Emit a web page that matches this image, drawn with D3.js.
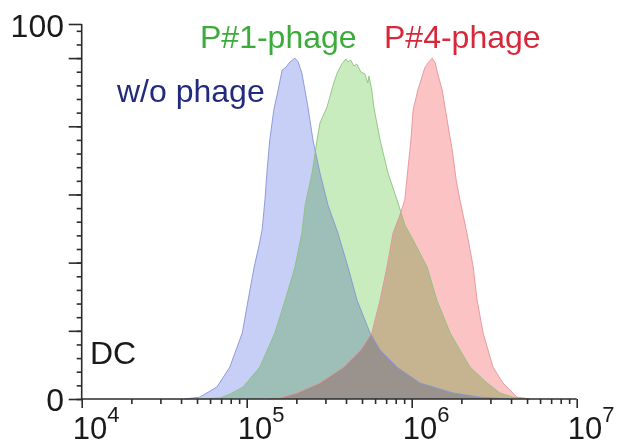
<!DOCTYPE html>
<html>
<head>
<meta charset="utf-8">
<script src="https://cdn.jsdelivr.net/npm/d3@7"></script>
<style>
  body { margin: 0; background: #fff; }
  svg { font-family: "Liberation Sans", Arial, sans-serif; }
</style>
</head>
<body>
<div id="chart"></div>
<script>
// intensity (x) and % of max (y)
const blueX = [4.2e4, 5.2e4, 6.6e4, 7.9e4, 9.4e4, 1.02e5, 1.11e5, 1.19e5, 1.24e5, 1.29e5, 1.33e5, 1.38e5, 1.46e5, 1.55e5, 1.64e5, 1.73e5, 1.83e5, 1.96e5, 2.05e5, 2.16e5, 2.35e5, 2.52e5, 2.78e5, 3.11e5, 3.57e5, 4.11e5, 4.66e5, 5.59e5, 6.43e5, 8.15e5, 1.12e6, 1.78e6, 2.59e6, 3.94e6];
const blueY = [0, 0.5, 3.2, 8.5, 17.6, 26.4, 35.2, 41.1, 45.1, 53.1, 61.1, 69.1, 77.1, 82.4, 87.7, 88.5, 89.9, 90.9, 89.9, 86.9, 77.9, 69.1, 60.3, 51.7, 44.3, 35.2, 26.4, 17.6, 13.1, 8.5, 4.3, 1.6, 0.5, 0];

const greenX = [5.2e4, 6.9e4, 7.9e4, 9.5e4, 1.2e5, 1.48e5, 1.71e5, 1.96e5, 2.16e5, 2.26e5, 2.49e5, 2.67e5, 2.78e5, 3.07e5, 3.34e5, 3.53e5, 3.77e5, 3.99e5, 4.11e5, 4.27e5, 4.46e5, 4.65e5, 4.92e5, 5.2e5, 5.42e5, 5.5e5, 5.73e5, 5.89e5, 6.43e5, 7.18e5, 8.15e5, 9.1e5, 1.02e6, 1.24e6, 1.42e6, 1.71e6, 1.96e6, 2.26e6, 2.86e6, 3.43e6, 4.11e6, 5.21e6];
const greenY = [0, 0.3, 1.3, 3.2, 8.5, 17.6, 26.4, 35.2, 44.3, 51.7, 60.3, 69.1, 73.6, 77.9, 83.7, 86.9, 89.3, 90.7, 89.9, 90.4, 88.8, 89.3, 87.2, 86.7, 84.3, 86.1, 82.4, 77.9, 69.1, 60.3, 53.1, 46.4, 42.4, 35.2, 26.4, 17.6, 13.1, 8.5, 4.3, 1.6, 0.5, 0];

const redX = [1.38e5, 1.59e5, 2.02e5, 2.78e5, 3.87e5, 4.92e5, 5.73e5, 6.43e5, 7.08e5, 7.71e5, 8.49e5, 9.08e5, 9.47e5, 9.89e5, 1.02e6, 1.09e6, 1.2e6, 1.27e6, 1.33e6, 1.39e6, 1.42e6, 1.53e6, 1.64e6, 1.76e6, 1.86e6, 1.96e6, 2.16e6, 2.36e6, 2.49e6, 2.71e6, 3.11e6, 3.57e6, 4.34e6, 5.21e6];
const redY = [0, 0.3, 1.6, 4.3, 8.5, 13.1, 17.6, 26.4, 35.2, 44.3, 49.1, 53.1, 61.1, 69.1, 77.1, 82.4, 88.3, 89.9, 90.9, 89.6, 87.7, 82.4, 74.4, 66.4, 58.4, 53.1, 44.3, 35.2, 26.4, 17.6, 8.5, 4.3, 0.5, 0];

const seriesNames = ["w/o phage", "P#1-phage", "P#4-phage"];
const xDecades = [1e4, 1e5, 1e6, 1e7];
const xExponents = ["4", "5", "6", "7"];
const yLabels = ["0", "100"];

const width = 618, height = 446;

const svg = d3.select("#chart").append("svg")
    .attr("width", width)
    .attr("height", height);

svg.append("rect").attr("width", width).attr("height", height).attr("fill", "#fff");

const x = d3.scaleLog().domain([1e4, 1e7]).range([81.7, 576.7]);
const y = d3.scaleLinear().domain([0, 100]).range([399, 24]);

const series = [
    { name: seriesNames[0], xs: blueX, ys: blueY, fill: "#c7cff6", stroke: "#8594d6", text: "#222a7e" },
    { name: seriesNames[1], xs: greenX, ys: greenY, fill: "#c9ecbe", stroke: "#8cc27e", text: "#3bab3a" },
    { name: seriesNames[2], xs: redX, ys: redY, fill: "#fbc3c3", stroke: "#e3949a", text: "#d8273a" }
];

const area = d3.area()
    .x(d => x(d[0]))
    .y0(y(0))
    .y1(d => y(d[1]));

const line = d3.line()
    .x(d => x(d[0]))
    .y(d => y(d[1]));

const plot = svg.append("g").style("isolation", "isolate");

plot.selectAll(".fill")
    .data(series)
    .enter()
    .append("path")
    .attr("class", "fill")
    .attr("d", s => area(s.xs.map((v, i) => [v, s.ys[i]])))
    .attr("fill", s => s.fill)
    .style("mix-blend-mode", "multiply");

plot.selectAll(".edge")
    .data(series)
    .enter()
    .append("path")
    .attr("class", "edge")
    .attr("d", s => line(s.xs.map((v, i) => [v, s.ys[i]])))
    .attr("fill", "none")
    .attr("stroke", s => s.stroke)
    .attr("stroke-width", 1)
    .attr("stroke-opacity", 0.9);

// y axis: long ticks every 1/5.5 of the range, short ones in between
const yMajorStep = 100 / 5.5;
const yMajor = d3.range(0, 100.01, yMajorStep).concat([100]);
const yMinor = d3.range(0, 100.01, yMajorStep / 5);

const axisColor = "#2b2b2b";

const yAxisMinor = svg.append("g")
    .attr("transform", `translate(${x(1e4)},0)`)
    .call(d3.axisLeft(y).tickValues(yMinor).tickSize(5).tickFormat(""));
const yAxisMajor = svg.append("g")
    .attr("transform", `translate(${x(1e4)},0)`)
    .call(d3.axisLeft(y).tickValues(yMajor).tickSize(13).tickFormat(""));

// x axis: decades long, 2..9 short
const xMinor = [];
xDecades.slice(0, -1).forEach(d => {
    for (let k = 2; k <= 9; k++) xMinor.push(d * k);
});

const xAxisMinor = svg.append("g")
    .attr("transform", `translate(0,${y(0)})`)
    .call(d3.axisBottom(x).tickValues(xMinor).tickSize(5).tickFormat(""));
const xAxisMajor = svg.append("g")
    .attr("transform", `translate(0,${y(0)})`)
    .call(d3.axisBottom(x).tickValues(xDecades).tickSize(9).tickFormat(""));

[yAxisMinor, yAxisMajor, xAxisMinor, xAxisMajor].forEach(a => {
    a.selectAll("path").attr("stroke", axisColor).attr("stroke-width", 1.6);
    a.selectAll("line").attr("stroke", axisColor).attr("stroke-width", 1.6);
});
yAxisMinor.select(".domain").remove();
xAxisMinor.select(".domain").remove();
yAxisMajor.select(".domain").attr("d", `M0,${y(0)}V${y(100)}`);
xAxisMajor.select(".domain").attr("d", `M${x(1e4)},0H${x(1e7)}`);

// y labels
svg.selectAll(".ylab")
    .data(yLabels)
    .enter()
    .append("text")
    .attr("class", "ylab")
    .attr("x", 64)
    .attr("y", (d, i) => i === 0 ? y(0) + 12 : y(100) + 13)
    .attr("text-anchor", "end")
    .attr("font-size", 32)
    .attr("fill", "#1a1a1a")
    .text(d => d);

// x labels with superscript exponents
const xl = svg.selectAll(".xlab")
    .data(xDecades)
    .enter()
    .append("text")
    .attr("class", "xlab")
    .attr("x", d => x(d) - 9)
    .attr("y", 439)
    .attr("font-size", 31)
    .attr("fill", "#1a1a1a");
xl.append("tspan").text("10");
xl.append("tspan")
    .attr("font-size", 22)
    .attr("dy", -17)
    .text((d, i) => xExponents[i]);

// series labels
const labelPos = [[117, 102], [200, 48], [384, 48]];
svg.selectAll(".slab")
    .data(series)
    .enter()
    .append("text")
    .attr("class", "slab")
    .attr("x", (d, i) => labelPos[i][0])
    .attr("y", (d, i) => labelPos[i][1])
    .attr("font-size", 32)
    .attr("fill", d => d.text)
    .text(d => d.name);

svg.append("text")
    .attr("x", 90)
    .attr("y", 364)
    .attr("font-size", 32)
    .attr("fill", "#1a1a1a")
    .text("DC");
</script>
</body>
</html>
